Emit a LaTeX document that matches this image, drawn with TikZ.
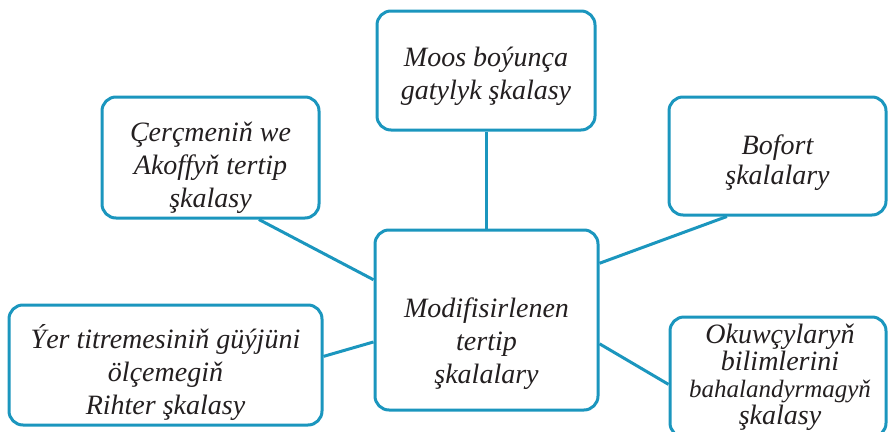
\documentclass[tikz,border=0pt]{standalone}
\usepackage{fontspec}
\setmainfont{Liberation Serif}
\usepackage{xcolor}
\usetikzlibrary{calc, positioning}
\definecolor{vien}{RGB}{27,150,190}
\definecolor{mauchu}{RGB}{35,31,32}

\begin{document}
\begin{tikzpicture}[x=1pt, y=-1pt,
    hop/.style={draw=vien, line width=3pt, rounded corners=14pt, fill=white},
    chu/.style={align=center, text=mauchu, inner sep=0pt,
        font=\itshape\fontsize{28}{33}\selectfont},
    noi/.style={draw=vien, line width=3pt}]
    \useasboundingbox (0,0) rectangle (888,431);
    \clip (0,0) rectangle (888,431);

    % Các ô
    \node[hop, minimum width=223pt, minimum height=180pt] (giua) at (486.5,320) {};
    \node[hop, minimum width=218pt, minimum height=119pt] (moos) at (486,70.5) {};
    \node[hop, minimum width=217pt, minimum height=121pt] (akoff) at (210.5,157.5) {};
    \node[hop, minimum width=217pt, minimum height=118pt] (bofort) at (777.5,156) {};
    \node[hop, minimum width=313pt, minimum height=120pt] (rihter) at (165.5,365) {};
    \node[hop, minimum width=216pt, minimum height=120pt] (okuw) at (778,377) {};

    % Chữ trong các ô
    \node[chu] (giuatxt) at ([yshift=-24pt]giua.center) {Modifisirlenen\\tertip\\şkalalary};
    \node[chu] (moostxt) at ([yshift=-6pt]moos.center) {Moos boýunça\\gatylyk şkalasy};
    \node[chu] (akofftxt) at ([yshift=-10pt]akoff.center) {Çerçmeniň we\\Akoffyň tertip\\şkalasy};
    \node[chu, font=\itshape\fontsize{28}{30}\selectfont] (boforttxt)
        at ([yshift=-7pt]bofort.center) {Bofort\\şkalalary};
    \node[chu] (rihtertxt) at ([yshift=-8pt]rihter.center)
        {Ýer titremesiniň güýjüni\\ölçemegiň\\Rihter şkalasy};
    \node[chu, font=\itshape\fontsize{28}{27}\selectfont] (okuwtxt) at ([xshift=2pt]okuw.center)
        {Okuwçylaryň\\bilimlerini\\{\fontsize{25}{27}\selectfont bahalandyrmagyň}\\şkalasy};

    % Các đường nối
    \draw[noi] (moos.south) -- (moos.south |- giua.north);
    \draw[noi] ($(akoff.south west)!0.72!(akoff.south east)$)
        -- ($(giua.north west)!0.28!(giua.south west)$);
    \draw[noi] ($(bofort.south west)!0.27!(bofort.south east)$)
        -- ($(giua.north east)!0.19!(giua.south east)$);
    \draw[noi] ($(rihter.north east)!0.43!(rihter.south east)$)
        -- ($(giua.north west)!0.62!(giua.south west)$);
    \draw[noi] ($(giua.north east)!0.63!(giua.south east)$)
        -- ($(okuw.north west)!0.56!(okuw.south west)$);
\end{tikzpicture}
\end{document}
